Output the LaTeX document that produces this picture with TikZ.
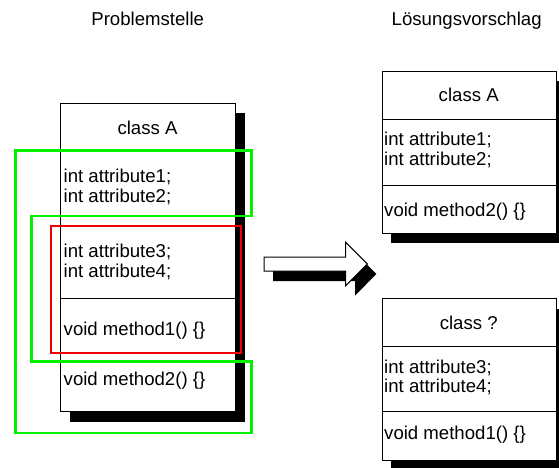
\documentclass[tikz,border=0pt]{standalone}
\usepackage{fontspec}
\setmainfont{Liberation Sans}
\usetikzlibrary{shadows}
\definecolor{grn}{RGB}{0,240,0}
\definecolor{rd}{RGB}{240,0,0}
\tikzset{
  classbox/.style={draw=black, line width=1pt, fill=white, rectangle, inner sep=0pt, anchor=north west,
    drop shadow={shadow xshift=9pt, shadow yshift=-10pt, fill=black, opacity=1}},
  sepline/.style={draw=black, line width=1pt},
  lbl/.style={anchor=base west, inner sep=0pt, font=\fontsize{18.6}{21}\selectfont},
  ttl/.style={anchor=base, inner sep=0pt, font=\fontsize{18.6}{21}\selectfont},
  grnline/.style={draw=grn, line width=2.6pt},
  redline/.style={draw=rd, line width=1.8pt},
  arrowshape/.style={draw=black, line width=1pt, fill=white}
}
\begin{document}
\begin{tikzpicture}[x=1pt, y=-1pt]
\useasboundingbox (0,0) rectangle (559,468);

% headings
\node[ttl] (h1) at (147.7,25.5) {Problemstelle};
\node[ttl] (h2) at (466.7,26) {Lösungsvorschlag};

% left class box
\node[classbox, minimum width=175pt, minimum height=308pt] (boxL) at (60,103) {};
\draw[sepline] (60,151) -- (235,151);
\draw[sepline] (60,216) -- (235,216);
\draw[sepline] (60,298) -- (235,298);
\draw[sepline] (60,361.5) -- (235,361.5);
\node[ttl] (lA) at (147.5,135) {class A};
\node[lbl] (l1) at (63.5,182) {int attribute1;};
\node[lbl] (l2) at (63.5,202) {int attribute2;};
\node[lbl] (l3) at (63.5,257) {int attribute3;};
\node[lbl] (l4) at (63.5,277) {int attribute4;};
\node[lbl] (l5) at (63.5,335.5) {void method1() \{\}};
\node[lbl] (l6) at (63.5,385) {void method2() \{\}};

% highlight frames
\draw[grnline] (15.7,150.7) -- (251.5,150.7) -- (251.5,215.8) -- (31.3,215.8) -- (31.3,361.5)
  -- (251.5,361.5) -- (251.5,433) -- (15.7,433) -- cycle;
\draw[redline] (51,225.7) rectangle (241.3,352.7);

% block arrow
\fill[black] (273,266) -- (355,266) -- (355,252.3) -- (376.3,274) -- (355,295.7) -- (355,281) -- (273,281) -- cycle;
\draw[arrowshape] (264,257) -- (345.7,257) -- (345.7,242.3) -- (367.3,264) -- (345.7,285.7) -- (345.7,271) -- (264,271) -- cycle;

% right top class box
\node[classbox, minimum width=174pt, minimum height=161.7pt] (boxR1) at (381.7,71) {};
\draw[sepline] (381.7,119.3) -- (555.7,119.3);
\draw[sepline] (381.7,185) -- (555.7,185);
\node[ttl] (r1A) at (468.7,102) {class A};
\node[lbl] (r11) at (384,146) {int attribute1;};
\node[lbl] (r12) at (384,165.5) {int attribute2;};
\node[lbl] (r13) at (384,216) {void method2() \{\}};

% right bottom class box
\node[classbox, minimum width=174pt, minimum height=161.7pt] (boxR2) at (381.7,298.3) {};
\draw[sepline] (381.7,346.7) -- (555.7,346.7);
\draw[sepline] (381.7,411) -- (555.7,411);
\node[ttl] (r2A) at (468.7,329) {class ?};
\node[lbl] (r21) at (384,373) {int attribute3;};
\node[lbl] (r22) at (384,392.5) {int attribute4;};
\node[lbl] (r23) at (384,439) {void method1() \{\}};
\end{tikzpicture}
\end{document}
